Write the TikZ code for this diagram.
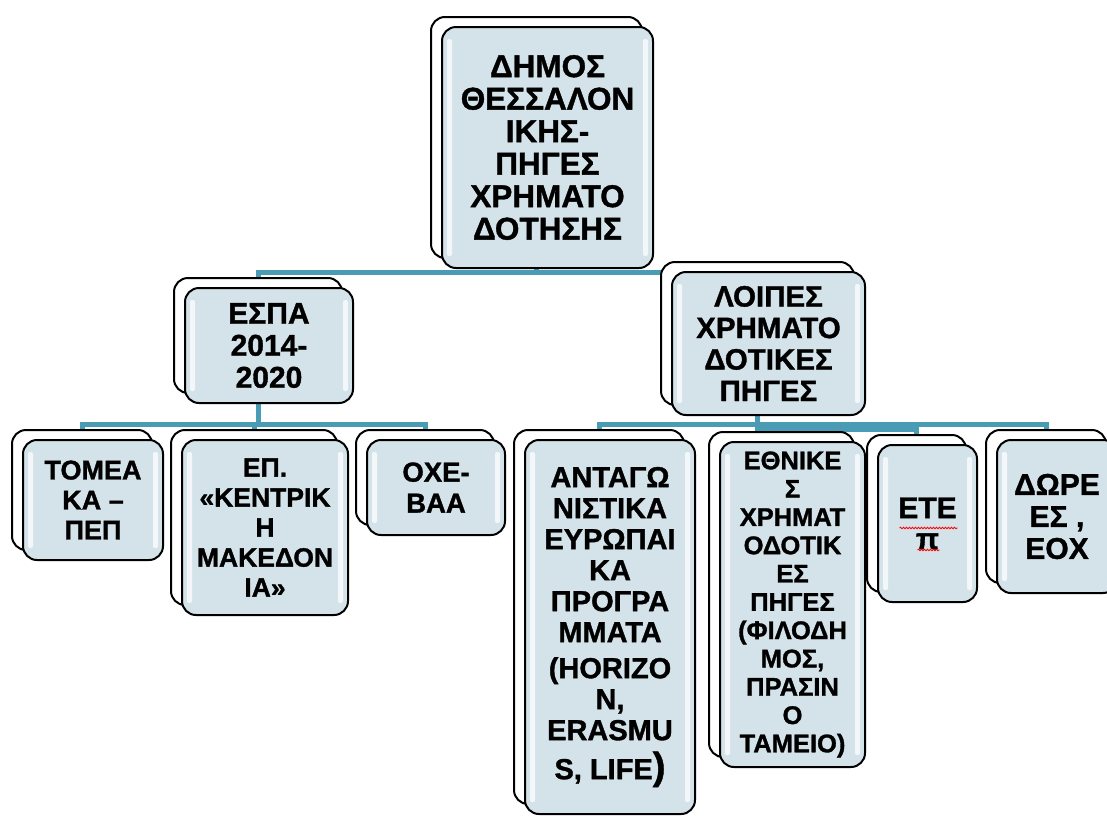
\documentclass[tikz,border=0pt]{standalone}
\usepackage{fontspec}
\setmainfont{Liberation Sans}[BoldFeatures={FakeBold=1.2}]
\usetikzlibrary{shadows,backgrounds,decorations.pathmorphing}
\definecolor{tilefill}{HTML}{D4E3EA}
\definecolor{linkteal}{HTML}{4A9BB4}
\begin{document}
\begin{tikzpicture}
  [x=1pt,y=-1pt,
   tile/.style 2 args={draw=black, line width=2pt, fill=tilefill, rounded corners=14pt,
     align=center, inner sep=0pt, font=\bfseries\fontsize{#1}{#2}\selectfont,
     copy shadow={shadow xshift=-11pt, shadow yshift=10pt, fill=white, draw=black, line width=2pt},
     path picture={
       \fill[white, opacity=.75, rounded corners=2pt]
         ([shift={(5pt,-12pt)}]path picture bounding box.north west) rectangle
         ([shift={(10pt,12pt)}]path picture bounding box.south west);
       \fill[white, opacity=.75, rounded corners=2pt]
         ([shift={(-10pt,-12pt)}]path picture bounding box.north east) rectangle
         ([shift={(-5pt,12pt)}]path picture bounding box.south east);
     }},
   link/.style={draw=linkteal, line width=5pt},
   squiggle/.style={draw=red, line width=.8pt, decorate,
     decoration={snake, amplitude=.8pt, segment length=3pt}}]
  \useasboundingbox (0,0) rectangle (1107,817);
  \clip (0,0) rectangle (1107,817);
  % top level
  \node (root)[tile={31.5}{32.5}, minimum width=211pt, minimum height=241pt] at (547.5,147.5)
    {ΔΗΜΟΣ\\ΘΕΣΣΑΛΟΝ\\ΙΚΗΣ-\\ΠΗΓΕΣ\\ΧΡΗΜΑΤΟ\\ΔΟΤΗΣΗΣ};
  % second level
  \node (espa)[tile={30}{32}, minimum width=168pt, minimum height=115pt] at (269,345.5)
    {ΕΣΠΑ\\2014-\\2020};
  \node (loipes)[tile={29.5}{31.5}, minimum width=193pt, minimum height=143pt] at (768.5,343.5)
    {ΛΟΙΠΕΣ\\ΧΡΗΜΑΤΟ\\ΔΟΤΙΚΕΣ\\ΠΗΓΕΣ};
  % third level, under espa
  \node (tomeaka)[tile={27}{30}, minimum width=140pt, minimum height=120pt] at (93,500)
    {ΤΟΜΕΑ\\ΚΑ –\\ΠΕΠ};
  \node (kentriki)[tile={26.5}{30}, minimum width=166pt, minimum height=175pt] at (265,527.5)
    {ΕΠ.\\«ΚΕΝΤΡΙΚ\\Η\\ΜΑΚΕΔΟΝ\\ΙΑ»};
  \node (oxe)[tile={27.5}{31}, minimum width=138pt, minimum height=95pt] at (436,487.5)
    {ΟΧΕ-\\ΒΑΑ};
  % third level, under loipes
  \node (antag)[tile={29}{31}, minimum width=170pt, minimum height=374pt] at (610,627)
    {ΑΝΤΑΓΩ\\ΝΙΣΤΙΚΑ\\ΕΥΡΩΠΑΙ\\ΚΑ\\ΠΡΟΓΡΑ\\ΜΜΑΤΑ\\[5pt](HORIZO\\N,\\ERASMU\\[8pt]S, LIFE{\fontsize{38}{31}\selectfont)}};
  \node (ethnikes)[tile={25.5}{28.3}, minimum width=145pt, minimum height=325pt] at (792.5,604.5)
    {ΕΘΝΙΚΕ\\Σ\\ΧΡΗΜΑΤ\\ΟΔΟΤΙΚ\\ΕΣ\\ΠΗΓΕΣ\\(ΦΙΛΟΔΗ\\ΜΟΣ,\\ΠΡΑΣΙΝ\\Ο\\ΤΑΜΕΙΟ)};
  \node (ete)[tile={30}{31}, minimum width=99pt, minimum height=157pt] at (927.5,523.5)
    {ΕΤΕ\\π};
  \node (dwrees)[tile={30}{32}, minimum width=120pt, minimum height=153pt] at (1057,516.5)
    {ΔΩΡΕ\\ΕΣ ,\\ΕΟΧ};
  % spelling marks
  \draw[squiggle] ([shift={(-28pt,-4.5pt)}]ete.center) -- ([shift={(30pt,-4.5pt)}]ete.center);
  \draw[squiggle] ([shift={(-10pt,-26.5pt)}]ete.center) -- ([shift={(12pt,-26.5pt)}]ete.center);
  % connectors
  \begin{pgfonlayer}{background}
    \draw[link] ([xshift=-11pt]root.south) -- ++(0,3) -| ([xshift=-11pt,yshift=10pt]espa.north);
    \draw[link] ([xshift=-11pt]root.south) -- ++(0,3) -| ([xshift=-11pt,yshift=10pt]loipes.north);
    \foreach \kid in {tomeaka,kentriki,oxe}
      \draw[link] ([xshift=-11pt]espa.south) -- ++(0,20) -| ([xshift=-11pt,yshift=10pt]\kid.north);
    \foreach \kid in {antag,ethnikes,dwrees}
      \draw[link] ([xshift=-11pt]loipes.south) -- ++(0,8) -| ([xshift=-11pt,yshift=10pt]\kid.north);
    \draw[link] ([xshift=-11pt]loipes.south) -- ++(0,13) -| ([xshift=-11pt,yshift=10pt]ete.north);
  \end{pgfonlayer}
\end{tikzpicture}
\end{document}
